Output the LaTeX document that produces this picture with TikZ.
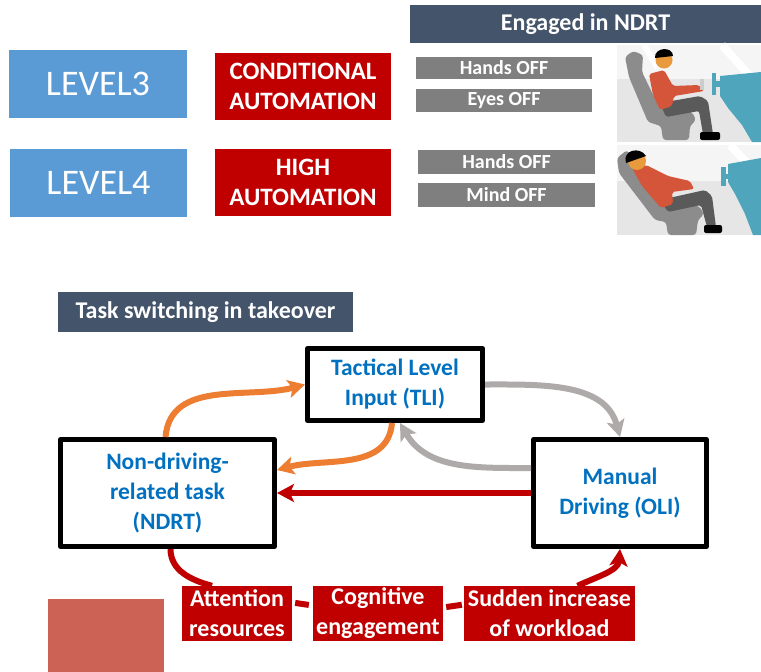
\documentclass[tikz,border=0pt]{standalone}
\usepackage{fontspec}
\setmainfont{Carlito}
\usetikzlibrary{arrows.meta}
\definecolor{lvblue}{HTML}{5B9BD5}
\definecolor{autred}{HTML}{C00000}
\definecolor{hdrblue}{HTML}{44546A}
\definecolor{offgray}{HTML}{7F7F7F}
\definecolor{tliblue}{HTML}{0070C0}
\definecolor{tkorange}{HTML}{ED7D31}
\definecolor{tkgray}{HTML}{AEAAAA}
\definecolor{pinkbox}{HTML}{CC6155}
\definecolor{seatgray}{HTML}{8C8C8C}
\definecolor{leggray}{HTML}{5A5A5A}
\definecolor{shirt}{HTML}{D4553A}
\definecolor{skin}{HTML}{E89A3C}
\definecolor{dashteal}{HTML}{4FA6BC}
\definecolor{floorgray}{HTML}{E6E6E6}
\begin{document}
\begin{tikzpicture}[x=1pt, y=-1pt, line join=round, >=stealth]
\tikzset{
  lvbox/.style={fill=lvblue, text=white, inner sep=0, font=\fontsize{36}{40}\selectfont},
  autobox/.style={fill=autred, text=white, align=center, inner sep=0, font=\fontsize{25}{30}\selectfont\bfseries},
  hdrbox/.style={fill=hdrblue, text=white, inner sep=0, font=\fontsize{24}{28}\selectfont\bfseries},
  offbox/.style={fill=offgray, text=white, inner sep=0, font=\fontsize{20}{24}\selectfont\bfseries},
  taskbox/.style={draw=black, line width=5, fill=white, text=tliblue, align=center, inner sep=0, font=\fontsize{23.5}{30}\selectfont\bfseries},
  factor/.style={fill=autred, text=white, align=center, inner sep=0, font=\fontsize{24}{30}\selectfont\bfseries},
  flow/.style={line width=6, -{Stealth[length=17pt, width=18pt, inset=4pt]}},
}
\useasboundingbox (0,0) rectangle (761,672);

% automation levels
\node[lvbox, minimum width=178, minimum height=68] (lv3) at (98,84) {LEVEL3};
\node[lvbox, minimum width=177, minimum height=68] (lv4) at (98.5,183) {LEVEL4};
\node[autobox, minimum width=176, minimum height=67] (cond) at (303,86.5) {CONDITIONAL\\AUTOMATION};
\node[autobox, minimum width=176, minimum height=67] (high) at (303,182.5) {HIGH\\AUTOMATION};

\node[hdrbox, minimum width=351, minimum height=38] (ndrt) at (585.5,24) {Engaged in NDRT};
\node[offbox, minimum width=176, minimum height=22] (hands3) at (504,68) {Hands OFF};
\node[offbox, minimum width=176, minimum height=23] (eyes) at (504,100.5) {Eyes OFF};
\node[offbox, minimum width=177, minimum height=24] (hands4) at (506.5,162) {Hands OFF};
\node[offbox, minimum width=177, minimum height=24] (mind) at (506.5,195) {Mind OFF};

% driver, level 3
\fill[white!96!black] (617,45) rectangle (761,142);
\fill[floorgray] (617,79) rectangle (761,142);
\draw[white, line width=6] (644,45) -- (658,68);
\draw[white, line width=8] (722,45) -- (757,84);
\fill[dashteal] (720,76) -- (761,72) -- (761,142) -- (752,142) -- (742,125) -- (728,108) -- (720,96) -- cycle;
\fill[dashteal] (712,73) rectangle (716,95);
\fill[dashteal] (716,81) rectangle (721,87);
\fill[seatgray, rounded corners=3] (625,57) -- (633,51) -- (643,55) -- (642,72) -- (660,109) -- (692,112) -- (696,120) -- (690,126) -- (689,140) -- (663,140) -- (661,126) -- (648,122) -- (629,77) -- cycle;
\fill[leggray, rounded corners=2] (660,103) -- (700,96) -- (708,101) -- (713,134) -- (703,134) -- (699,111) -- (666,117) -- cycle;
\fill[black, rounded corners=2] (700,132) rectangle (720,140);
\fill[shirt, rounded corners=2] (649,74) -- (664,70) -- (673,86) -- (699,85) -- (704,91) -- (674,96) -- (672,106) -- (660,110) -- (653,95) -- cycle;
\fill[white!80!black] (700,79) rectangle (704,90);
\fill[skin] (664,60) circle (8.5);
\fill[black] (655,58) .. controls (654,47) and (673,46) .. (673,56) -- cycle;

% driver, level 4
\fill[white!96!black] (617,145) rectangle (761,235);
\fill[floorgray] (617,181) rectangle (761,235);
\draw[white, line width=8] (730,145) -- (761,178);
\fill[dashteal] (728,164) -- (761,158) -- (761,235) -- (753,235) -- (745,214) -- (735,194) -- (728,182) -- cycle;
\fill[dashteal] (721,167) rectangle (726,186);
\fill[dashteal] (726,174) rectangle (730,179);
\fill[seatgray, rounded corners=3] (617,158) -- (627,150) -- (634,160) -- (662,203) -- (699,206) -- (704,214) -- (698,220) -- (696,235) -- (668,235) -- (666,222) -- (655,220) -- (619,173) -- cycle;
\fill[leggray, rounded corners=2] (660,200) -- (705,190) -- (712,196) -- (716,227) -- (707,227) -- (701,205) -- (668,212) -- cycle;
\fill[black, rounded corners=2] (704,225) rectangle (722,233);
\fill[shirt, rounded corners=2] (632,168) -- (646,165) -- (668,176) -- (690,181) -- (694,189) -- (672,192) -- (673,204) -- (661,208) -- (642,186) -- cycle;
\fill[skin] (637,161) circle (9);
\fill[black] (626,163) .. controls (622,150) and (640,146) .. (646,156) -- cycle;

% task switching in takeover
\node[hdrbox, minimum width=295, minimum height=40] (tsw) at (205.5,312) {Task switching in takeover};
\node[taskbox, minimum width=175, minimum height=72] (tli) at (395,384.5) {Tactical Level\\Input (TLI)};
\node[taskbox, minimum width=214, minimum height=107] (ndt) at (167.5,493) {Non-driving-\\related task\\(NDRT)};
\node[taskbox, minimum width=173, minimum height=107] (oli) at (620,493) {Manual\\Driving (OLI)};

\node[factor, minimum width=110, minimum height=55] (att) at (237,613.5) {Attention\\resources};
\node[factor, minimum width=130, minimum height=55] (cog) at (378,613.5) {Cognitive\\engagement};
\node[factor, minimum width=171, minimum height=55] (sud) at (549.5,613.5) {Sudden increase\\of workload};
\fill[pinkbox] (48,599) rectangle (164,672);

\draw[flow, tkorange] ([xshift=-2]ndt.north) to[out=85, in=195] (tli.west);
\draw[flow, tkorange] ([xshift=-3]tli.south) to[out=-95, in=15] ([yshift=23]ndt.east);
\draw[flow, tkgray] (tli.east) to[out=0, in=105] (oli.north);
\draw[flow, tkgray] ([yshift=25]oli.west) to[out=180, in=-60] ([xshift=5]tli.south);
\draw[flow, autred] (oli.west) -- (ndt.east);
\draw[autred, line width=6] ([xshift=3]ndt.south) to[out=-90, in=165] ([xshift=-25]att.north);
\draw[flow, autred] ([xshift=28]sud.north) to[out=25, in=-95] (oli.south);
\draw[autred, line width=6, shorten <=3, shorten >=4] ([yshift=11]att.east) -- ([yshift=8]cog.west);
\draw[autred, line width=6, shorten <=3, shorten >=2] ([yshift=6]cog.east) -- ([yshift=9]sud.west);
\end{tikzpicture}
\end{document}
